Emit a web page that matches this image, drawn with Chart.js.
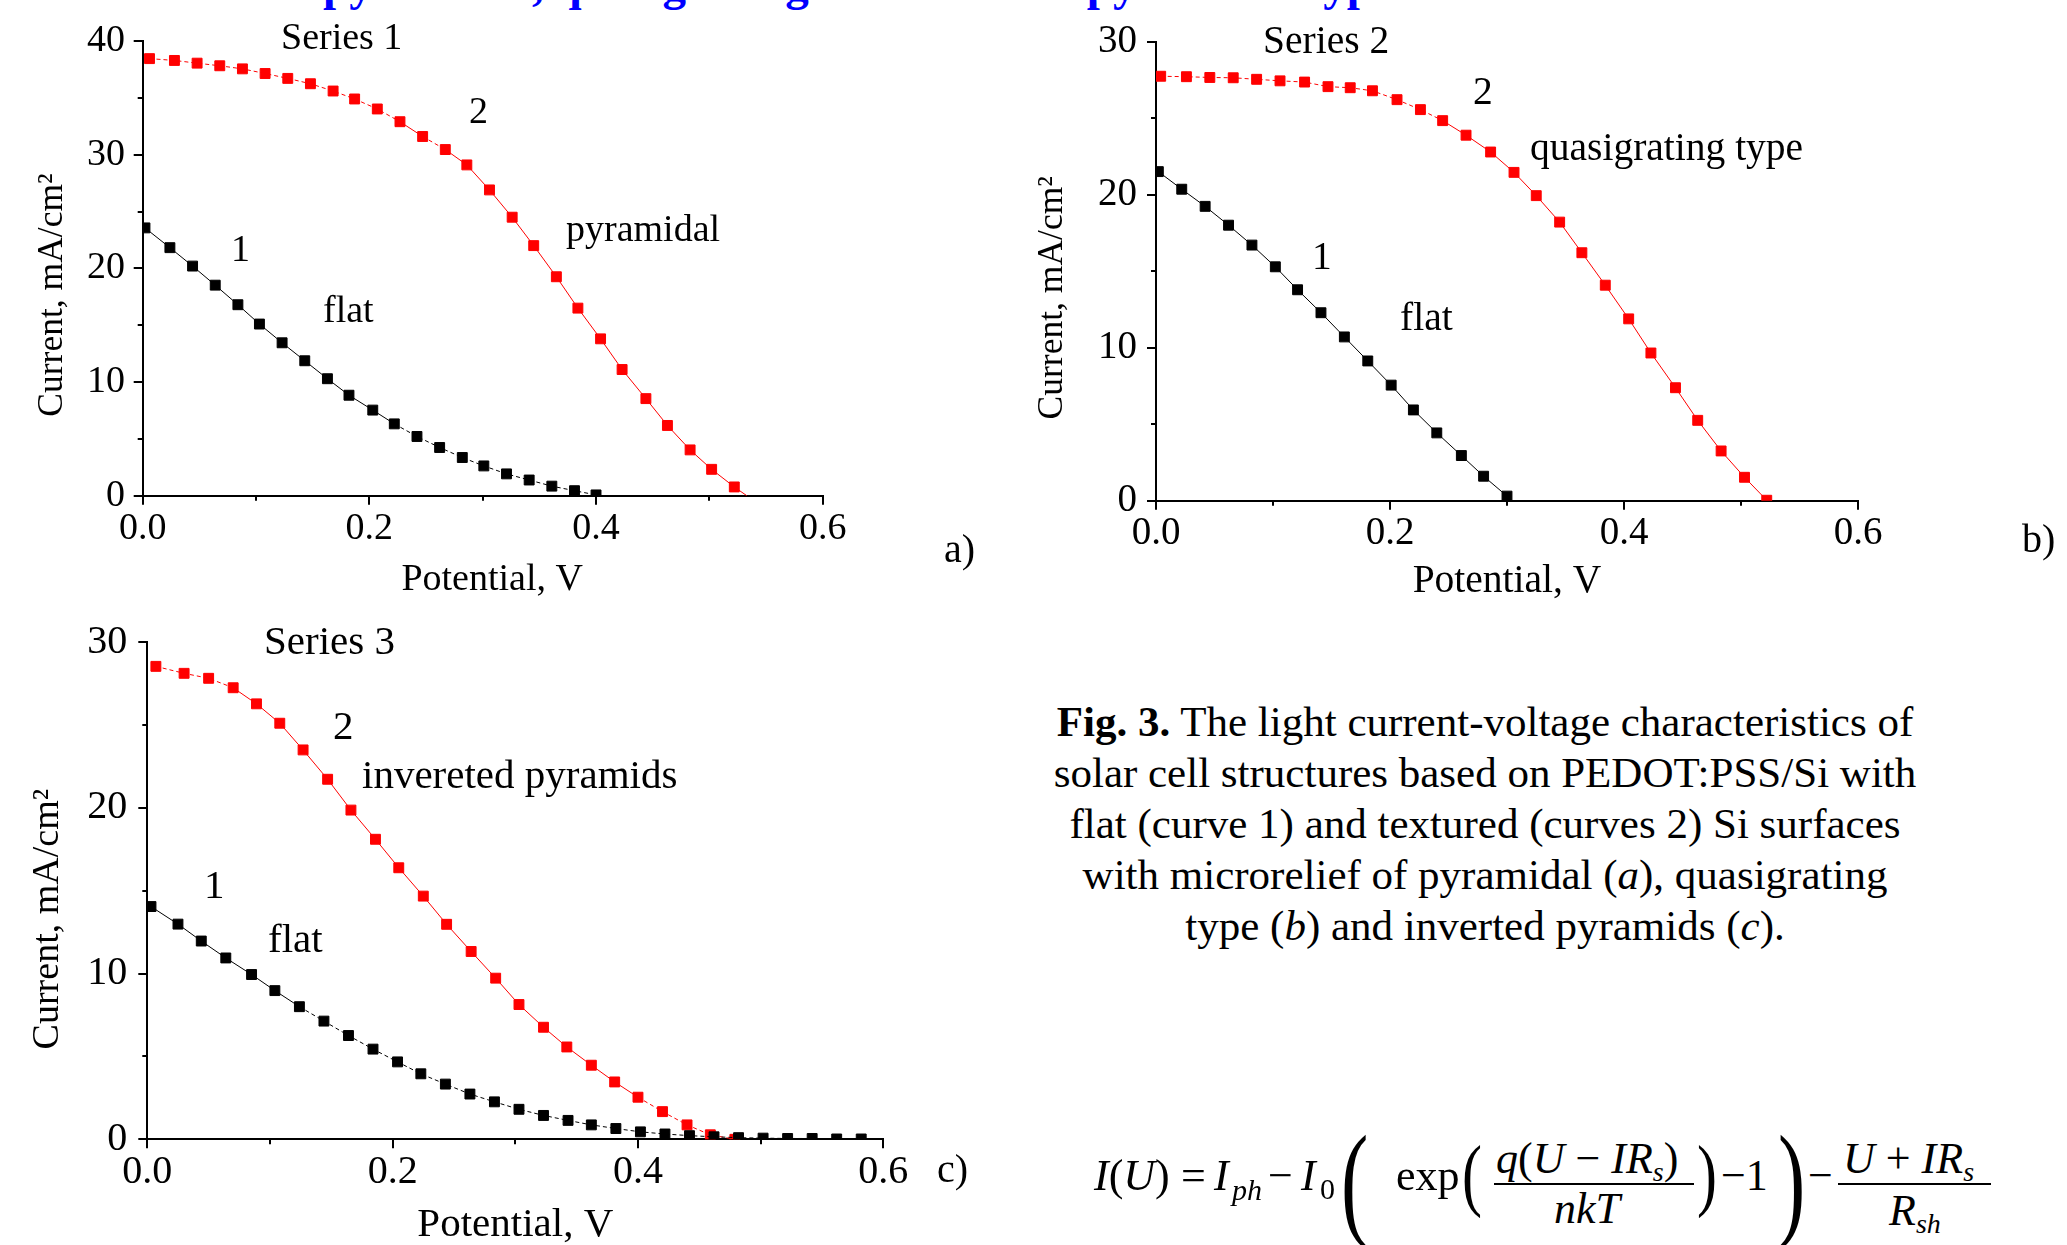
<!DOCTYPE html>
<html>
<head>
<meta charset="utf-8">
<script src="https://cdn.jsdelivr.net/npm/chart.js@4.4.1/dist/chart.umd.min.js"></script>
<style>
  html, body { margin: 0; padding: 0; background: #fff; }
  body { width: 2067px; height: 1245px; position: relative; overflow: hidden;
         font-family: 'Liberation Serif', 'Times New Roman', serif; color: #000; }
  canvas { position: absolute; }
  .t { position: absolute; white-space: nowrap; line-height: 1; }
  .cap { position: absolute; text-align: center; font-size: 43px; line-height: 51px; white-space: nowrap; }
  .f { position: absolute; white-space: nowrap; line-height: 1; font-size: 44px; }
  .sb { font-size: 28px; position: relative; top: 8px; font-style: italic; }
  .bar { position: absolute; height: 2px; background: #000; }
  .paren { transform-origin: left top; }
</style>
</head>
<body>
<div class="t" style="left:323px;top:-39px;font-size:47px;font-weight:bold;color:#0000ff">pyramidal, quasigrating and inverted pyramidal type</div>

<canvas id="chartA" width="1000" height="600" style="left:0;top:0"></canvas>
<canvas id="chartB" width="1067" height="600" style="left:1000px;top:0"></canvas>
<canvas id="chartC" width="1000" height="645" style="left:0;top:600px"></canvas>

<!-- panel a labels -->
<div class="t" style="left:281px;top:17px;font-size:38px">Series 1</div>
<div class="t" style="left:469px;top:91px;font-size:38px">2</div>
<div class="t" style="left:566px;top:209px;font-size:38px">pyramidal</div>
<div class="t" style="left:231px;top:229px;font-size:38px">1</div>
<div class="t" style="left:323px;top:290px;font-size:38px">flat</div>
<div class="t" style="left:944px;top:529px;font-size:40px">a)</div>

<!-- panel b labels -->
<div class="t" style="left:1263px;top:21px;font-size:39.5px">Series 2</div>
<div class="t" style="left:1473px;top:72px;font-size:39.5px">2</div>
<div class="t" style="left:1530px;top:128px;font-size:39.5px">quasigrating type</div>
<div class="t" style="left:1312px;top:237px;font-size:39.5px">1</div>
<div class="t" style="left:1400px;top:298px;font-size:39.5px">flat</div>
<div class="t" style="left:2022px;top:519px;font-size:40px">b)</div>

<!-- panel c labels -->
<div class="t" style="left:264px;top:620px;font-size:41px">Series 3</div>
<div class="t" style="left:333px;top:705px;font-size:41px">2</div>
<div class="t" style="left:362px;top:754px;font-size:41px">invereted pyramids</div>
<div class="t" style="left:204px;top:864px;font-size:41px">1</div>
<div class="t" style="left:268px;top:918px;font-size:41px">flat</div>
<div class="t" style="left:937px;top:1149px;font-size:40px">c)</div>

<div class="cap" style="left:1035px;top:696px;width:900px">
<b>Fig. 3.</b> The light current-voltage characteristics of<br>
solar cell structures based on PEDOT:PSS/Si with<br>
flat (curve 1) and textured (curves 2) Si surfaces<br>
with microrelief of pyramidal (<i>a</i>), quasigrating<br>
type (<i>b</i>) and inverted pyramids (<i>c</i>).
</div>

<!-- formula -->
<div class="f" style="left:1094px;top:1154px"><i>I</i>(<i>U</i>)</div>
<div class="f" style="left:1181px;top:1154px">=</div>
<div class="f" style="left:1214px;top:1154px"><i>I</i></div>
<div class="f" style="left:1232px;top:1175px;font-size:30px"><i>ph</i></div>
<div class="f" style="left:1268px;top:1154px">&minus;</div>
<div class="f" style="left:1301px;top:1154px"><i>I</i></div>
<div class="f" style="left:1320px;top:1174px;font-size:30px">0</div>
<div class="f paren" style="left:1341px;top:1118px;font-size:126px;transform:scaleX(0.65)">(</div>
<div class="f" style="left:1396px;top:1154px">exp</div>
<div class="f paren" style="left:1462px;top:1134px;font-size:81px;transform:scaleX(0.74)">(</div>
<div class="f" style="left:1496px;top:1137px"><i>q</i>(<i>U</i> &minus; <i>IR</i><span class="sb">s</span>)</div>
<div class="bar" style="left:1494px;top:1183px;width:200px"></div>
<div class="f" style="left:1554px;top:1187px"><i>nkT</i></div>
<div class="f paren" style="left:1697px;top:1134px;font-size:81px;transform:scaleX(0.74)">)</div>
<div class="f" style="left:1721px;top:1154px">&minus;1</div>
<div class="f paren" style="left:1778px;top:1118px;font-size:126px;transform:scaleX(0.65)">)</div>
<div class="f" style="left:1808px;top:1154px">&minus;</div>
<div class="f" style="left:1843px;top:1137px"><i>U</i> + <i>IR</i><span class="sb">s</span></div>
<div class="bar" style="left:1838px;top:1183px;width:153px"></div>
<div class="f" style="left:1889px;top:1189px"><i>R</i><span class="sb">sh</span></div>

<script>
// Potential (V) and current (mA/cm^2)
const xTicks = [0, 0.2, 0.4, 0.6];
const xMinor = [0.1, 0.3, 0.5];
const yTicksA = [0, 10, 20, 30, 40];
const yMinorA = [5, 15, 25, 35];
const yTicksBC = [0, 10, 20, 30];
const yMinorBC = [5, 15, 25];

// a) pyramidal
const flatAx = [0.002, 0.024, 0.044, 0.064, 0.084, 0.103, 0.123, 0.143, 0.163, 0.182, 0.203, 0.222, 0.242, 0.262, 0.282, 0.301, 0.321, 0.341, 0.361, 0.381, 0.400];
const flatAy = [23.56, 21.82, 20.2, 18.52, 16.8, 15.1, 13.45, 11.87, 10.29, 8.84, 7.53, 6.32, 5.21, 4.24, 3.36, 2.62, 1.92, 1.38, 0.84, 0.44, 0.07];
const pyrAx = [0.006, 0.028, 0.048, 0.068, 0.088, 0.108, 0.128, 0.148, 0.168, 0.187, 0.207, 0.227, 0.247, 0.267, 0.286, 0.306, 0.326, 0.345, 0.365, 0.384, 0.404, 0.423, 0.444, 0.463, 0.483, 0.502, 0.522, 0.533];
const pyrAy = [38.45, 38.29, 38.05, 37.82, 37.55, 37.14, 36.71, 36.24, 35.6, 34.9, 34.02, 32.9, 31.6, 30.45, 29.1, 26.9, 24.5, 22.0, 19.26, 16.5, 13.8, 11.1, 8.54, 6.18, 4.03, 2.32, 0.77, 0];

// b) quasigrating type
const flatBx = [0.002, 0.022, 0.042, 0.062, 0.082, 0.102, 0.121, 0.141, 0.161, 0.181, 0.201, 0.220, 0.240, 0.261, 0.280, 0.300];
const flatBy = [21.5, 20.35, 19.23, 18.0, 16.7, 15.28, 13.78, 12.28, 10.7, 9.13, 7.55, 5.93, 4.43, 2.95, 1.6, 0.3];
const quasiBx = [0.004, 0.026, 0.046, 0.066, 0.086, 0.106, 0.127, 0.147, 0.166, 0.185, 0.206, 0.226, 0.245, 0.265, 0.286, 0.306, 0.325, 0.345, 0.364, 0.384, 0.404, 0.423, 0.444, 0.463, 0.483, 0.503, 0.522];
const quasiBy = [27.73, 27.7, 27.65, 27.63, 27.53, 27.43, 27.35, 27.05, 26.98, 26.78, 26.2, 25.55, 24.83, 23.88, 22.78, 21.45, 19.93, 18.2, 16.2, 14.08, 11.88, 9.65, 7.38, 5.25, 3.25, 1.53, 0.03];

// c) inverted pyramids
const flatCx = [0.003, 0.025, 0.044, 0.064, 0.085, 0.104, 0.124, 0.144, 0.164, 0.184, 0.204, 0.223, 0.243, 0.263, 0.283, 0.303, 0.323, 0.343, 0.362, 0.382, 0.402, 0.422, 0.442, 0.462, 0.482, 0.502, 0.522, 0.542, 0.562, 0.582];
const flatCy = [14.04, 12.98, 11.96, 10.94, 9.94, 8.97, 8.0, 7.13, 6.26, 5.44, 4.67, 3.95, 3.33, 2.73, 2.26, 1.81, 1.44, 1.14, 0.87, 0.65, 0.45, 0.32, 0.22, 0.15, 0.1, 0.07, 0.05, 0.05, 0.02, 0.02];
const invCx = [0.007, 0.030, 0.050, 0.070, 0.089, 0.108, 0.127, 0.147, 0.166, 0.186, 0.205, 0.225, 0.244, 0.264, 0.284, 0.303, 0.323, 0.342, 0.362, 0.381, 0.400, 0.420, 0.440, 0.459, 0.479];
const invCy = [28.53, 28.11, 27.81, 27.24, 26.27, 25.1, 23.49, 21.72, 19.86, 18.1, 16.38, 14.67, 12.97, 11.33, 9.72, 8.13, 6.76, 5.57, 4.47, 3.46, 2.54, 1.67, 0.87, 0.27, 0];

const FONT = "'Liberation Serif', 'Times New Roman', serif";

// short outward minor ticks, Chart.js has none of its own
const minorTicks = {
  id: 'minorTicks',
  afterDraw(chart, args, opts) {
    const ctx = chart.ctx;
    const xs = chart.scales.x, ys = chart.scales.y;
    ctx.save();
    ctx.strokeStyle = '#000';
    ctx.lineWidth = 2;
    ctx.beginPath();
    opts.x.forEach(v => {
      const px = Math.round(xs.getPixelForValue(v));
      ctx.moveTo(px, xs.top); ctx.lineTo(px, xs.top + 5);
    });
    opts.y.forEach(v => {
      const py = Math.round(ys.getPixelForValue(v));
      ctx.moveTo(ys.right, py); ctx.lineTo(ys.right - 5, py);
    });
    ctx.stroke();
    ctx.restore();
  }
};

// thin connecting line looks broken where it runs flat
function shallow(ctx) {
  const dx = Math.abs(ctx.p1.x - ctx.p0.x), dy = Math.abs(ctx.p1.y - ctx.p0.y);
  return dy < 0.6 * dx ? [4, 3] : undefined;
}

function line(xs, ys, color, hideLast) {
  return {
    data: xs.map((x, i) => ({ x: x, y: ys[i] })),
    showLine: true,
    borderColor: color,
    borderWidth: 1,
    backgroundColor: color,
    pointStyle: 'rect',
    pointRadius: c => (hideLast && c.dataIndex === xs.length - 1) ? 0 : 7,
    pointBorderWidth: 1,
    pointBorderColor: color,
    pointBackgroundColor: color,
    clip: 0,
    segment: { borderDash: shallow }
  };
}

function makePanel(id, p) {
  new Chart(document.getElementById(id), {
    type: 'scatter',
    data: { datasets: [line(p.fx, p.fy, '#000000', false), line(p.tx, p.ty, '#ff0000', p.hideLast)] },
    options: {
      responsive: false,
      animation: false,
      events: [],
      layout: { padding: { top: p.padTop, right: p.padRight, left: 0, bottom: 0 } },
      plugins: {
        legend: { display: false },
        tooltip: { enabled: false },
        minorTicks: { x: xMinor, y: p.yMinor }
      },
      scales: {
        x: {
          type: 'linear', min: 0, max: 0.6,
          afterBuildTicks: s => { s.ticks = xTicks.map(v => ({ value: v })); },
          afterFit: s => { s.height = p.xH; },
          ticks: { callback: v => v.toFixed(1), color: '#000', padding: p.xPad, maxRotation: 0, autoSkip: false,
                   font: { family: FONT, size: p.tick, lineHeight: 1 } },
          grid: { drawOnChartArea: false, tickLength: 9, color: '#000', lineWidth: 2 },
          border: { color: '#000', width: 2 },
          title: { display: true, text: p.xText, color: '#000',
                   font: { family: FONT, size: p.xTitle, lineHeight: 1 }, padding: { top: 0, bottom: p.xTitlePad } }
        },
        y: {
          type: 'linear', min: 0, max: p.yMax,
          afterBuildTicks: s => { s.ticks = p.yTicks.map(v => ({ value: v })); },
          afterFit: s => { s.width = p.yW; },
          ticks: { callback: v => String(v), color: '#000', padding: p.yPad, autoSkip: false,
                   font: { family: FONT, size: p.tick, lineHeight: 1 } },
          grid: { drawOnChartArea: false, tickLength: 9, color: '#000', lineWidth: 2 },
          border: { color: '#000', width: 2 },
          title: { display: true, text: 'Current, mA/cm\u00b2\u2002\u2002\u2002', color: '#000',
                   font: { family: FONT, size: p.yTitle, lineHeight: 1 }, padding: { top: p.yTitlePad, bottom: 0 } }
        }
      }
    },
    plugins: [minorTicks]
  });
}

makePanel('chartA', {
  fx: flatAx, fy: flatAy, tx: pyrAx, ty: pyrAy, hideLast: true,
  yMax: 40, yTicks: yTicksA, yMinor: yMinorA,
  padTop: 41, padRight: 177.3, yW: 142.7, xH: 104.3,
  tick: 38, xPad: 5.3, yPad: 8.7,
  xText: '\u2002Potential, V', xTitle: 38, xTitlePad: 0.5, yTitle: 35.5, yTitlePad: 35
});
makePanel('chartB', {
  fx: flatBx, fy: flatBy, tx: quasiBx, ty: quasiBy, hideLast: false,
  yMax: 30, yTicks: yTicksBC, yMinor: yMinorBC,
  padTop: 41.5, padRight: 209, yW: 156, xH: 99.3,
  tick: 39, xPad: 5, yPad: 10,
  xText: 'Potential, V', xTitle: 39.5, xTitlePad: -1.8, yTitle: 35.5, yTitlePad: 35
});
makePanel('chartC', {
  fx: flatCx, fy: flatCy, tx: invCx, ty: invCy, hideLast: false,
  yMax: 30, yTicks: yTicksBC, yMinor: yMinorBC,
  padTop: 42, padRight: 116.7, yW: 147.3, xH: 105.7,
  tick: 40, xPad: 4.3, yPad: 11,
  xText: 'Potential, V', xTitle: 41, xTitlePad: -1, yTitle: 38, yTitlePad: 29
});
</script>
</body>
</html>
